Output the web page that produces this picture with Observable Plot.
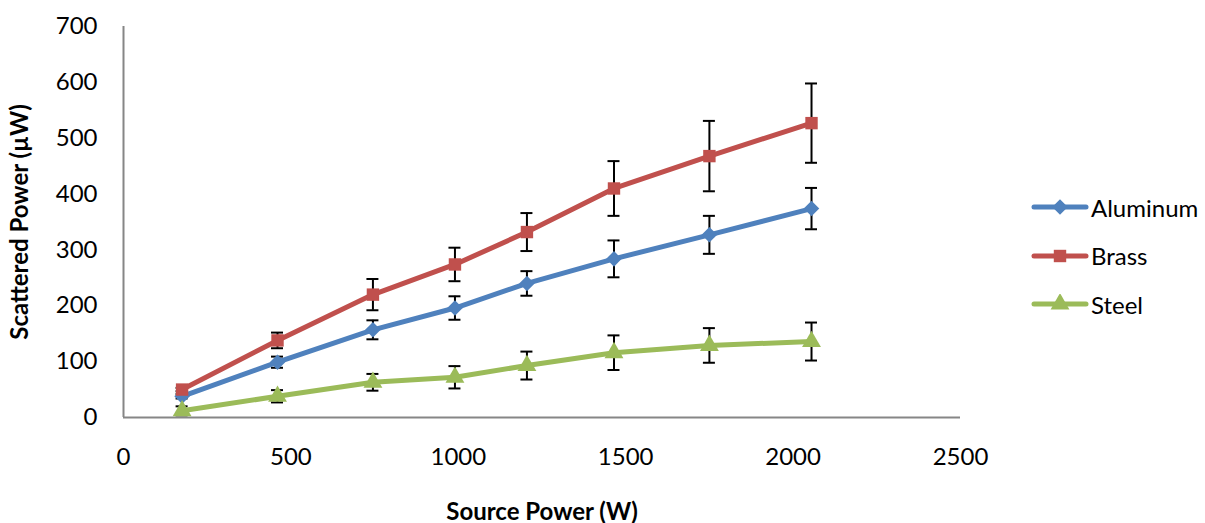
<!DOCTYPE html>
<html>
<head>
<meta charset="utf-8">
<script src="https://cdn.jsdelivr.net/npm/d3@7"></script>
<script src="https://cdn.jsdelivr.net/npm/@observablehq/plot@0.6"></script>
<style>
  html, body { margin: 0; padding: 0; background: #fff; }
  #wrap { position: relative; width: 1205px; height: 523px; font-family: Lato, "Open Sans", sans-serif; }
  #legend { position: absolute; left: 1031px; top: 183px; }
  .li { display: flex; align-items: center; height: 48.5px; font-size: 24px; color: #000; }
  .li svg { margin-right: 2px; }
</style>
</head>
<body>
<div id="wrap"><div id="legend"></div></div>
<script>
const sourcePower = [175, 460, 745, 990, 1205, 1465, 1750, 2055];
const aluminum    = [38, 99, 157, 196, 240, 284, 327, 374];
const aluminumErr = [4, 10, 17, 21, 22, 33, 34, 37];
const brass       = [50, 138, 220, 274, 332, 410, 468, 527];
const brassErr    = [3, 14, 28, 30, 34, 49, 63, 71];
const steel       = [12, 38, 63, 72, 93, 116, 129, 136];
const steelErr    = [8, 11, 15, 20, 25, 31, 31, 34];
const seriesNames = ["Aluminum", "Brass", "Steel"];
const colors = ["#4F81BD", "#C0504D", "#9BBB59"];
const symbols = ["diamond2", "square", "triangle"];
const xTicks = [0, 500, 1000, 1500, 2000, 2500];
const yTicks = [0, 100, 200, 300, 400, 500, 600, 700];

const values = [aluminum, brass, steel];
const errs = [aluminumErr, brassErr, steelErr];
const data = [];
seriesNames.forEach((s, i) => {
  sourcePower.forEach((x, j) => {
    data.push({series: s, x, y: values[i][j], e: errs[i][j]});
  });
});

const chart = Plot.plot({
  width: 1205,
  height: 523,
  marginLeft: 123,
  marginRight: 245,
  marginTop: 26,
  marginBottom: 106,
  style: {fontFamily: "Lato, 'Open Sans', sans-serif", fontSize: "24px", color: "#000", background: "#fff"},
  x: {domain: [0, 2500], ticks: xTicks, tickFormat: d => String(d)},
  y: {domain: [0, 700], ticks: yTicks, tickFormat: d => String(d)},
  color: {domain: seriesNames, range: colors},
  symbol: {domain: seriesNames, range: symbols},
  marks: [
    Plot.axisX({ticks: xTicks, tickFormat: d => String(d), tickSize: 0, tickPadding: 30,
      label: "Source Power (W)", labelAnchor: "center", labelArrow: "none", labelOffset: 102}),
    Plot.axisY({ticks: yTicks, tickFormat: d => String(d), tickSize: 0, tickPadding: 26,
      label: "Scattered Power (µW)", labelAnchor: "center", labelArrow: "none", labelOffset: 113}),
    Plot.ruleY([0], {stroke: "#868686", strokeWidth: 2}),
    Plot.ruleX([0], {stroke: "#868686", strokeWidth: 2}),
    Plot.ruleX(data, {x: "x", y1: d => d.y - d.e, y2: d => d.y + d.e, stroke: "#000", strokeWidth: 2}),
    Plot.ruleY(data, {y: d => d.y + d.e, x1: "x", x2: "x", insetLeft: -6, insetRight: -6, stroke: "#000", strokeWidth: 2}),
    Plot.ruleY(data, {y: d => d.y - d.e, x1: "x", x2: "x", insetLeft: -6, insetRight: -6, stroke: "#000", strokeWidth: 2}),
    Plot.line(data, {x: "x", y: "y", z: "series", stroke: "series", strokeWidth: 5, strokeLinejoin: "round", strokeLinecap: "round"}),
    Plot.dot(data, {x: "x", y: "y", symbol: "series", fill: "series", r: 7, stroke: null})
  ]
});
const wrap = document.getElementById("wrap");
wrap.insertBefore(chart, wrap.firstChild);
// make axis titles bold
chart.querySelectorAll("g[aria-label='x-axis label'] text, g[aria-label='y-axis label'] text").forEach(t => t.setAttribute("font-weight", "bold"));

const legend = document.getElementById("legend");
seriesNames.forEach((s, i) => {
  const row = document.createElement("div");
  row.className = "li";
  const sym = d3.symbol(d3[{diamond2: "symbolDiamond2", square: "symbolSquare", triangle: "symbolTriangle"}[symbols[i]]], Math.PI * 49)();
  row.innerHTML = `<svg width="58" height="20" viewBox="0 0 58 20"><line x1="3" y1="10" x2="55" y2="10" stroke="${colors[i]}" stroke-width="5" stroke-linecap="round"/><path d="${sym}" transform="translate(29,10)" fill="${colors[i]}"/></svg><span>${s}</span>`;
  legend.appendChild(row);
});
</script>
</body>
</html>
